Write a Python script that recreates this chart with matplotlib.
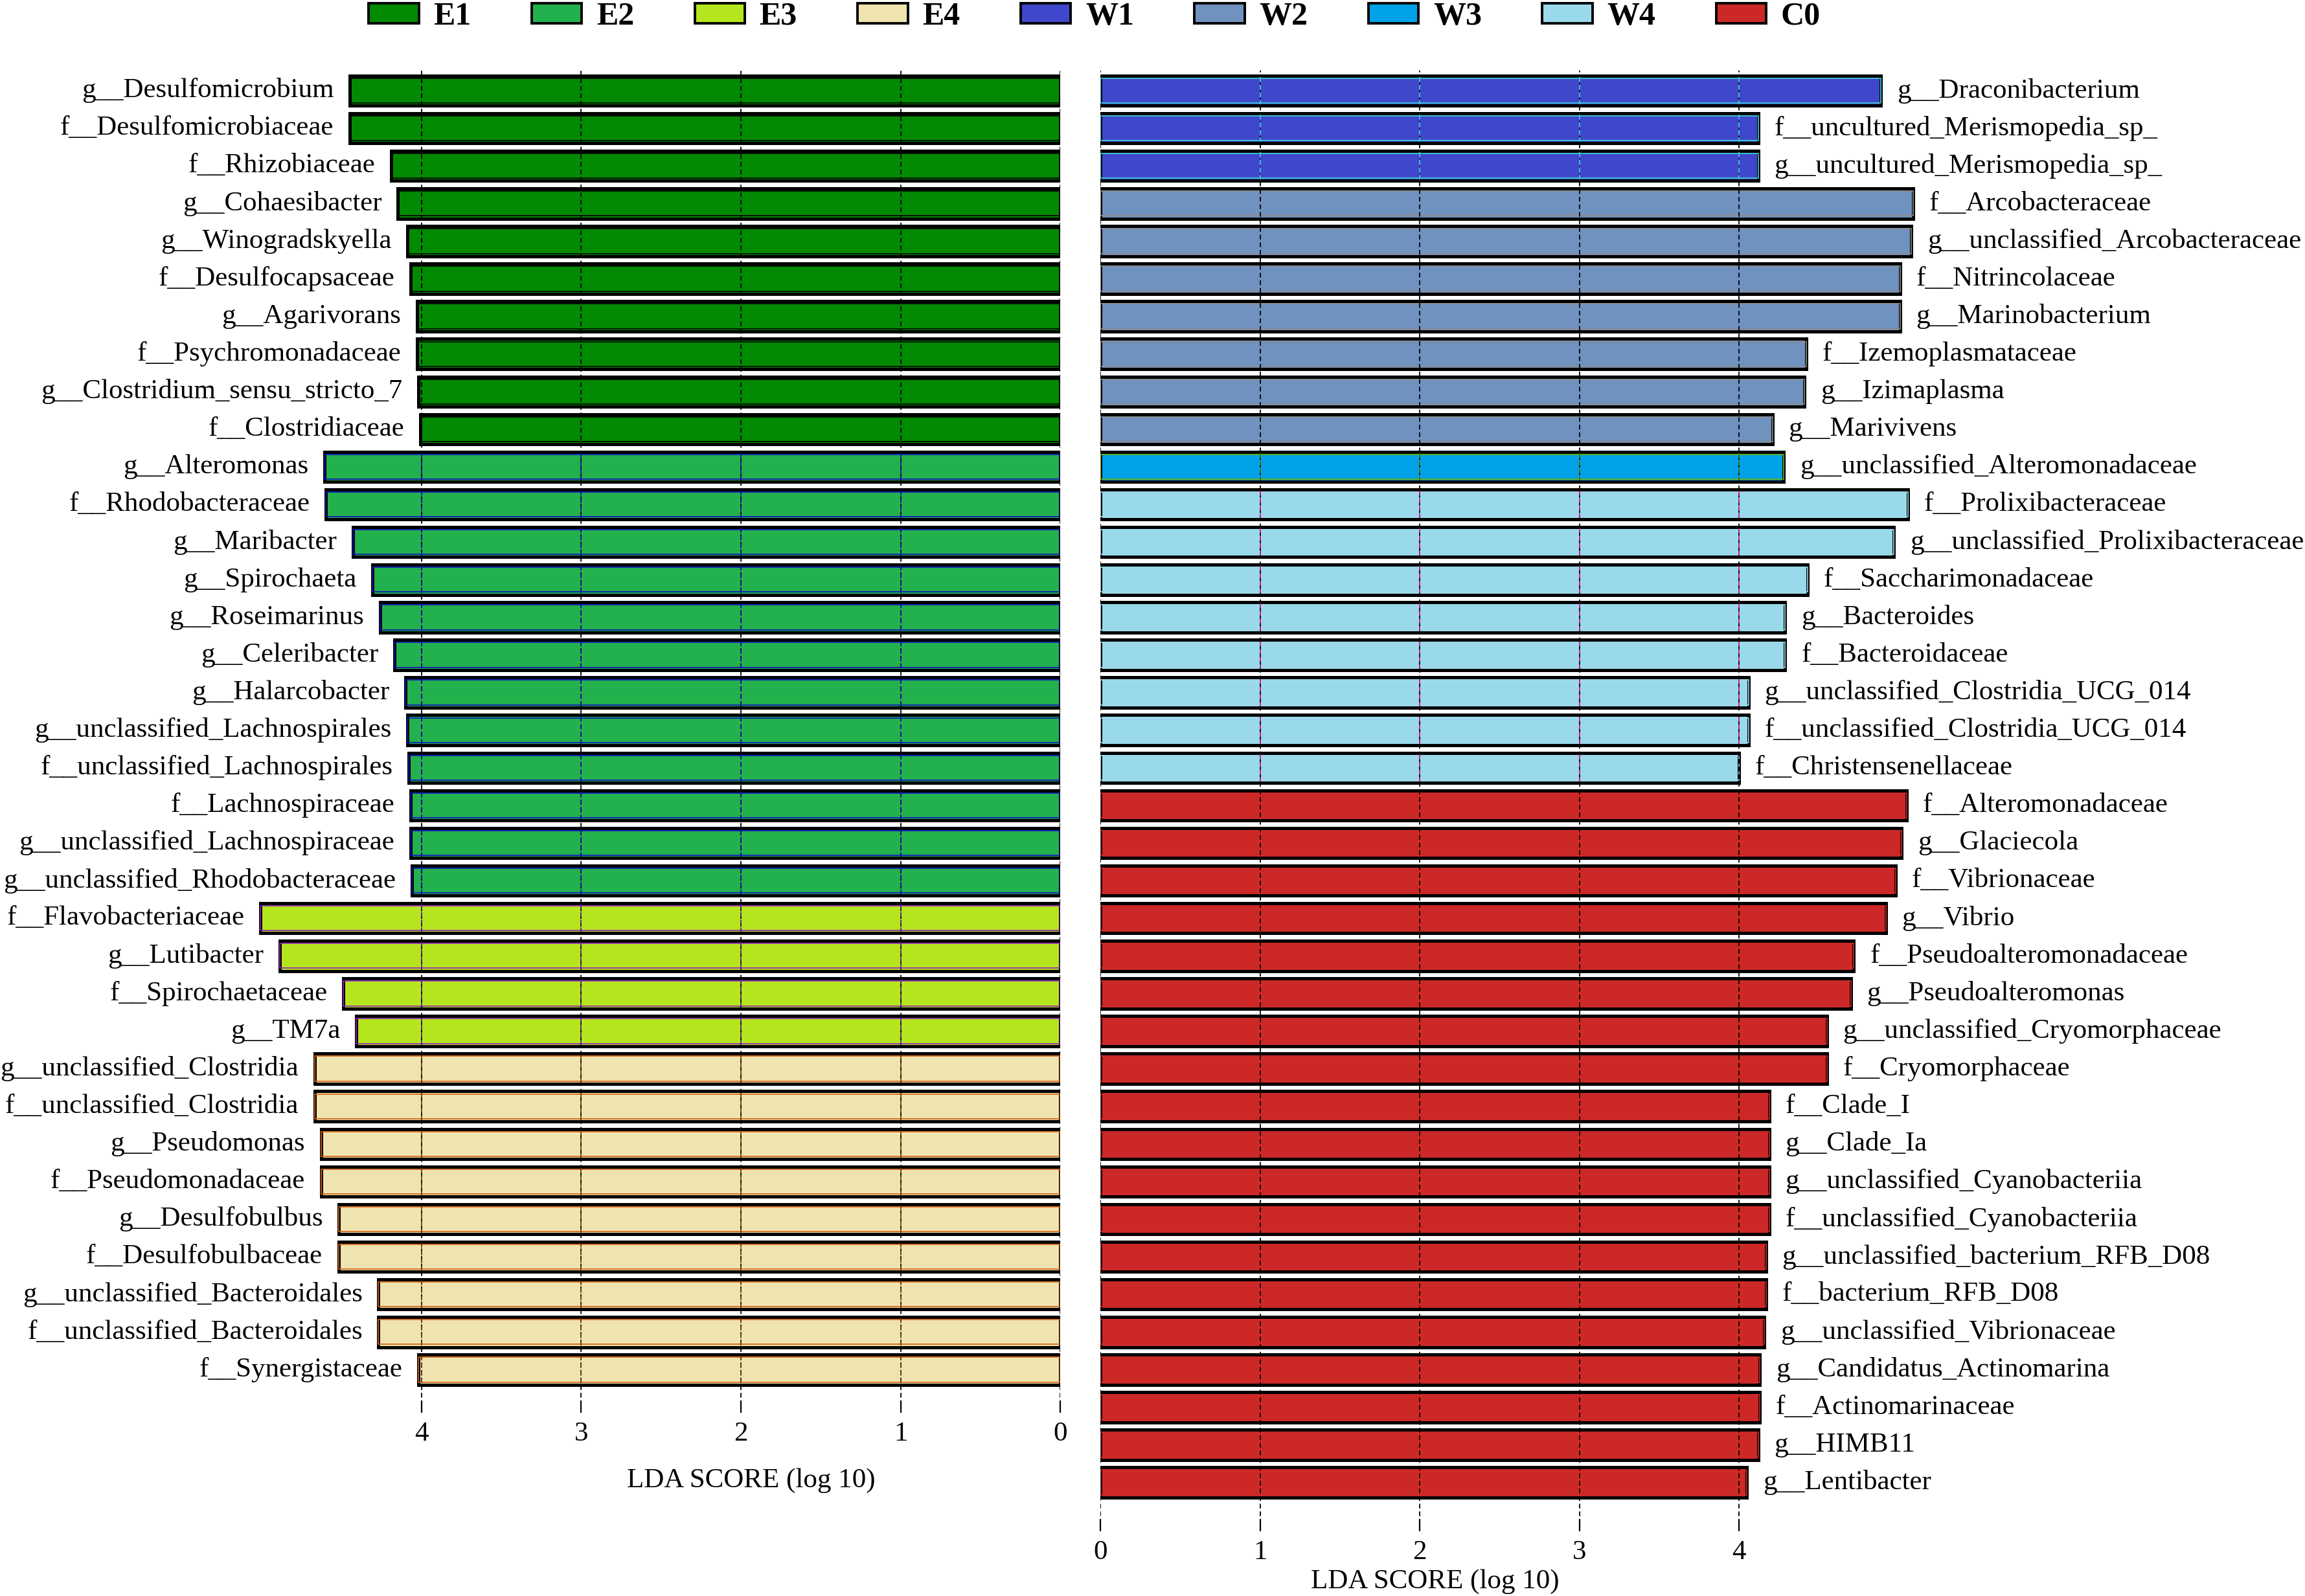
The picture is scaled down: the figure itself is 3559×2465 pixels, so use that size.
import matplotlib
matplotlib.use("Agg")
import matplotlib.pyplot as plt
from matplotlib.patches import Patch

plt.rcParams['font.family'] = ['Liberation Serif', 'DejaVu Serif']

# ---------------- data ----------------
groups = ['E1', 'E2', 'E3', 'E4', 'W1', 'W2', 'W3', 'W4', 'C0']
face_colors = {'E1': '#038a03', 'E2': '#22b14c', 'E3': '#b5e61d', 'E4': '#efe4b0',
               'W1': '#3f48cc', 'W2': '#7092be', 'W3': '#00a2e8', 'W4': '#99d9ea',
               'C0': '#cc2828'}
inner_edge = {'E1': '#000000', 'E2': '#1010c0', 'E3': '#9020c0', 'E4': '#d06010',
              'W1': '#40d0d0', 'W2': '#8a8a8a', 'W3': '#70b000', 'W4': '#99d9ea',
              'C0': '#cc2828'}
grid_color = {'E1': 'black', 'E2': '#1010c0', 'E3': '#6a1a9a', 'E4': '#7a3a10',
              'W1': '#40d0d0', 'W2': 'black', 'W3': '#4a7a00', 'W4': '#e0108a',
              'C0': 'black'}

left_labels = [
    'g__Desulfomicrobium', 'f__Desulfomicrobiaceae', 'f__Rhizobiaceae', 'g__Cohaesibacter',
    'g__Winogradskyella', 'f__Desulfocapsaceae', 'g__Agarivorans', 'f__Psychromonadaceae',
    'g__Clostridium_sensu_stricto_7', 'f__Clostridiaceae',
    'g__Alteromonas', 'f__Rhodobacteraceae', 'g__Maribacter', 'g__Spirochaeta',
    'g__Roseimarinus', 'g__Celeribacter', 'g__Halarcobacter', 'g__unclassified_Lachnospirales',
    'f__unclassified_Lachnospirales', 'f__Lachnospiraceae', 'g__unclassified_Lachnospiraceae',
    'g__unclassified_Rhodobacteraceae',
    'f__Flavobacteriaceae', 'g__Lutibacter', 'f__Spirochaetaceae', 'g__TM7a',
    'g__unclassified_Clostridia', 'f__unclassified_Clostridia', 'g__Pseudomonas',
    'f__Pseudomonadaceae', 'g__Desulfobulbus', 'f__Desulfobulbaceae',
    'g__unclassified_Bacteroidales', 'f__unclassified_Bacteroidales', 'f__Synergistaceae']
left_values = [4.45, 4.45, 4.19, 4.15, 4.09, 4.07, 4.03, 4.03, 4.02, 4.01,
               4.61, 4.60, 4.43, 4.31, 4.26, 4.17, 4.10, 4.09, 4.08, 4.07, 4.07, 4.06,
               5.01, 4.89, 4.49, 4.41,
               4.67, 4.67, 4.63, 4.63, 4.52, 4.52, 4.27, 4.27, 4.02]
left_groups = ['E1'] * 10 + ['E2'] * 12 + ['E3'] * 4 + ['E4'] * 9

right_labels = [
    'g__Draconibacterium', 'f__uncultured_Merismopedia_sp_', 'g__uncultured_Merismopedia_sp_',
    'f__Arcobacteraceae', 'g__unclassified_Arcobacteraceae', 'f__Nitrincolaceae',
    'g__Marinobacterium', 'f__Izemoplasmataceae', 'g__Izimaplasma', 'g__Marivivens',
    'g__unclassified_Alteromonadaceae',
    'f__Prolixibacteraceae', 'g__unclassified_Prolixibacteraceae', 'f__Saccharimonadaceae',
    'g__Bacteroides', 'f__Bacteroidaceae', 'g__unclassified_Clostridia_UCG_014',
    'f__unclassified_Clostridia_UCG_014', 'f__Christensenellaceae',
    'f__Alteromonadaceae', 'g__Glaciecola', 'f__Vibrionaceae', 'g__Vibrio',
    'f__Pseudoalteromonadaceae', 'g__Pseudoalteromonas', 'g__unclassified_Cryomorphaceae',
    'f__Cryomorphaceae', 'f__Clade_I', 'g__Clade_Ia', 'g__unclassified_Cyanobacteriia',
    'f__unclassified_Cyanobacteriia', 'g__unclassified_bacterium_RFB_D08',
    'f__bacterium_RFB_D08', 'g__unclassified_Vibrionaceae', 'g__Candidatus_Actinomarina',
    'f__Actinomarinaceae', 'g__HIMB11', 'g__Lentibacter']
right_values = [4.89, 4.12, 4.12,
                5.09, 5.08, 5.01, 5.01, 4.42, 4.41, 4.21,
                4.28,
                5.06, 4.97, 4.43, 4.29, 4.29, 4.06, 4.06, 4.00,
                5.05, 5.02, 4.98, 4.92, 4.72, 4.70, 4.55, 4.55, 4.19, 4.19, 4.19, 4.19,
                4.17, 4.17, 4.16, 4.13, 4.13, 4.12, 4.05]
right_groups = ['W1'] * 3 + ['W2'] * 7 + ['W3'] * 1 + ['W4'] * 8 + ['C0'] * 19

ticks = [0, 1, 2, 3, 4]

# ---------------- layout ----------------
W, H = 3559, 2465
fig = plt.figure(figsize=(W / 100, H / 100), dpi=100)

XMAX = 5.3
UNIT = 246.5
SP = 58.1
TOP = 109
FIRST = 140

def fx(px):
    return px / W

def fy(px):
    return 1 - px / H

left_zero = 1637
right_zero = 1699
ax_w = XMAX * UNIT

lb = 2182
axL = fig.add_axes([fx(left_zero - ax_w), fy(lb), fx(ax_w), (lb - TOP) / H])
axR_b = 2365
axR = fig.add_axes([fx(right_zero), fy(axR_b), fx(ax_w), (axR_b - TOP) / H])

FS = 31
BH = 0.80


def draw(ax, labels, values, grps, bottom_px, left_side):
    n = len(labels)
    top_lim = -(FIRST - TOP) / SP
    bot_lim = top_lim + (bottom_px - TOP) / SP
    ys = list(range(n))
    fcs = [face_colors[g] for g in grps]
    ax.barh(ys, values, height=BH, color=fcs, edgecolor='black', linewidth=3.6, zorder=2)
    ax.barh(ys, values, height=BH - 0.14, fill=False,
            edgecolor=[inner_edge[g] for g in grps], linewidth=1.2, zorder=2.5)
    for t in ticks[1:]:
        ax.axvline(t, color='black', linestyle=(0, (4, 2.5)), linewidth=1.3, zorder=3)
    ax.axvline(0, color='black', linestyle=(0, (4, 2.5)), linewidth=1.3, zorder=1)
    for y, v, g in zip(ys, values, grps):
        c = grid_color[g]
        if c == 'black':
            continue
        for t in ticks[1:]:
            if v > t:
                ax.plot([t, t], [y - BH / 2 + 0.04, y + BH / 2 - 0.04], color=c,
                        linestyle=(0, (4, 2.5)), linewidth=1.3, zorder=4)
    for y, v, lab in zip(ys, values, labels):
        ax.text(v + 0.10, y, lab, ha='right' if left_side else 'left', va='center',
                fontsize=FS, zorder=5)
    if left_side:
        ax.set_xlim(XMAX, 0)
    else:
        ax.set_xlim(0, XMAX)
    ax.set_ylim(bot_lim, top_lim)
    ax.set_xticks(ticks)
    ax.set_xticklabels([str(t) for t in ticks], fontsize=FS)
    ax.set_yticks([])
    for s in ax.spines.values():
        s.set_visible(False)
    ax.tick_params(axis='x', direction='in', length=14, width=1.6, pad=10)


draw(axL, left_labels, left_values, left_groups, lb, True)
draw(axR, right_labels, right_values, right_groups, axR_b, False)

fig.text(fx(1160), fy(2287), 'LDA SCORE (log 10)', ha='center', va='center', fontsize=FS)
fig.text(fx(2216), fy(2443), 'LDA SCORE (log 10)', ha='center', va='center', fontsize=FS)

handles = [Patch(facecolor=face_colors[g], edgecolor='black', linewidth=2.8, label=g)
           for g in groups]
fig.legend(handles=handles, loc='center', bbox_to_anchor=(fx(1690), fy(26)), ncol=9,
           frameon=False, prop={'size': 36, 'weight': 'bold'},
           handlelength=1.55, handleheight=0.6, handletextpad=0.45, columnspacing=1.87,
           borderaxespad=0, borderpad=0)

fig.savefig('out.png', dpi=100)
